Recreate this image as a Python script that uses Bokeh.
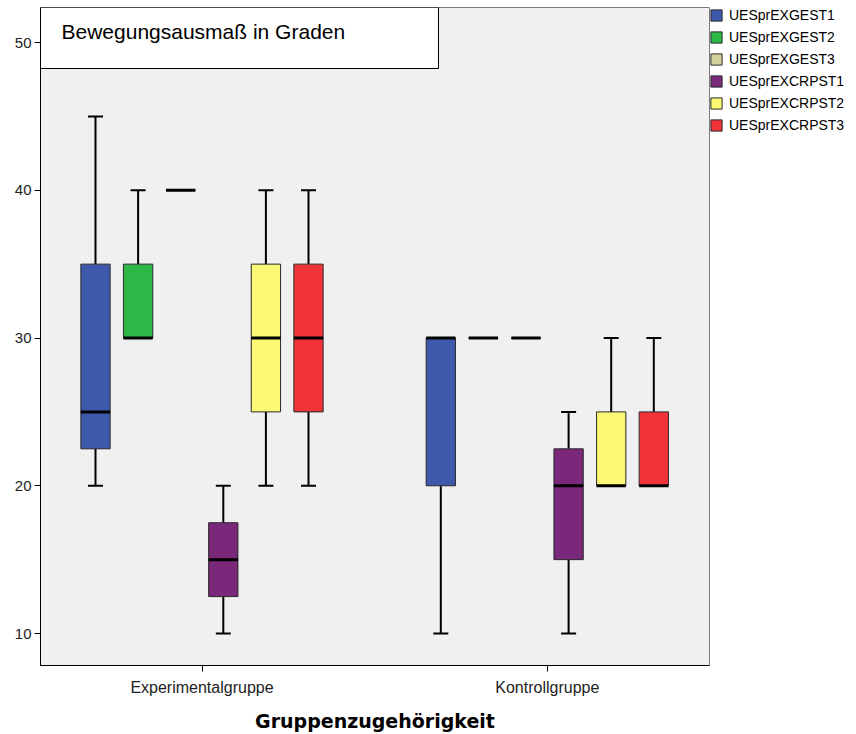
from bokeh.plotting import figure
from bokeh.models import FixedTicker, Legend, LegendItem, Range1d
from bokeh.core.properties import value
from bokeh.embed import file_html
from bokeh.resources import INLINE

# ---------------- data ----------------
groups = ["Experimentalgruppe", "Kontrollgruppe"]
series = ["UESprEXGEST1", "UESprEXGEST2", "UESprEXGEST3",
          "UESprEXCRPST1", "UESprEXCRPST2", "UESprEXCRPST3"]
colors = ["#3E58AC", "#2EB848", "#D4D09A", "#7A287A", "#FBF873", "#EF3338"]

exp_min = [20, 30, 40, 10, 20, 20]
exp_q1 = [22.5, 30, 40, 12.5, 25, 25]
exp_med = [25, 30, 40, 15, 30, 30]
exp_q3 = [35, 35, 40, 17.5, 35, 35]
exp_max = [45, 40, 40, 20, 40, 40]

kon_min = [10, 30, 30, 10, 20, 20]
kon_q1 = [20, 30, 30, 15, 20, 20]
kon_med = [30, 30, 30, 20, 20, 20]
kon_q3 = [30, 30, 30, 22.5, 25, 25]
kon_max = [30, 30, 30, 25, 30, 30]

y_ticks = [10, 20, 30, 40, 50]
title_text = "Bewegungsausmaß in Graden"
x_label = "Gruppenzugehörigkeit"

# ---------------- layout constants ----------------
PX_PER_X = 345.3          # pixels per group unit
PX_PER_Y = 14.775         # pixels per degree
FRAME_W, FRAME_H = 669, 658
x0 = 1 - 161.5 / PX_PER_X
x1 = x0 + FRAME_W / PX_PER_X
y1 = 50 + 35 / PX_PER_Y
y0 = y1 - FRAME_H / PX_PER_Y

step = 42.6 / PX_PER_X
box_w = 29.3 / PX_PER_X
cap_w = 15.0 / PX_PER_X

p = figure(frame_width=FRAME_W, frame_height=FRAME_H,
           output_backend="svg", toolbar_location=None,
           x_range=Range1d(x0, x1), y_range=Range1d(y0, y1),
           min_border_left=40, min_border_right=130, min_border_top=7,
           min_border_bottom=60)
p.background_fill_color = "#F0F0F0"
p.border_fill_color = "white"
p.outline_line_color = "#7a7a7a"
p.outline_line_width = 1
p.xgrid.visible = False
p.ygrid.visible = False


def px_x(px):
    return 1 + (px - 201.5) / PX_PER_X


def px_y(py):
    return 50 - (py - 42) / PX_PER_Y


# title box in the top-left corner of the frame
p.quad(left=x0, right=px_x(438), top=y1, bottom=px_y(68),
       fill_color="white", line_color="black", line_width=1)
p.text(x=[px_x(61)], y=[px_y(31)], text=[title_text],
       text_font=value("Liberation Sans"), text_font_size="21px",
       text_baseline="middle", text_align="left", text_color="black")

stats = [(exp_min, exp_q1, exp_med, exp_q3, exp_max),
         (kon_min, kon_q1, kon_med, kon_q3, kon_max)]

legend_items = []
for i, (name, col) in enumerate(zip(series, colors)):
    xs, q1s, q3s, meds = [], [], [], []
    wx, wy0, wy1 = [], [], []
    cx, cy = [], []
    for g, (mn, q1, md, q3, mx) in enumerate(stats):
        xc = (g + 1) + (i - 2.5) * step
        xs.append(xc)
        q1s.append(q1[i]); q3s.append(q3[i]); meds.append(md[i])
        if mx[i] > q3[i]:
            wx.append(xc); wy0.append(q3[i]); wy1.append(mx[i])
            cx.append(xc); cy.append(mx[i])
        if mn[i] < q1[i]:
            wx.append(xc); wy0.append(mn[i]); wy1.append(q1[i])
            cx.append(xc); cy.append(mn[i])
    if wx:
        p.segment(x0=wx, y0=wy0, x1=wx, y1=wy1, line_color="black", line_width=2)
        p.segment(x0=[c - cap_w / 2 for c in cx], y0=cy,
                  x1=[c + cap_w / 2 for c in cx], y1=cy,
                  line_color="black", line_width=2)
    r = p.quad(left=[c - box_w / 2 for c in xs], right=[c + box_w / 2 for c in xs],
               bottom=q1s, top=q3s, fill_color=col, line_color="#2a2a2a", line_width=1)
    p.segment(x0=[c - box_w / 2 for c in xs], y0=meds,
              x1=[c + box_w / 2 for c in xs], y1=meds,
              line_color="black", line_width=3)
    legend_items.append(LegendItem(label=name, renderers=[r]))

legend = Legend(items=legend_items, location="top_left")
legend.margin = 0
legend.padding = 4
legend.spacing = 6
legend.glyph_width = 14
legend.glyph_height = 14
legend.label_height = 14
legend.label_standoff = 6
legend.label_text_font = "Liberation Sans"
legend.label_text_font_size = "14px"
legend.label_text_color = "black"
legend.border_line_color = None
legend.background_fill_alpha = 0
p.add_layout(legend, "right")

# axes
p.yaxis.ticker = FixedTicker(ticks=y_ticks)
p.yaxis.minor_tick_line_color = None
p.yaxis.major_tick_out = 6
p.yaxis.major_tick_in = 0
p.yaxis.major_label_standoff = 3
p.yaxis.major_label_text_font = "Liberation Sans"
p.yaxis.major_label_text_font_size = "15px"
p.yaxis.major_label_text_color = "#222222"
p.yaxis.axis_line_color = "black"
p.yaxis.major_tick_line_color = "black"

p.xaxis.ticker = FixedTicker(ticks=[1, 2])
p.xaxis.major_label_overrides = {1: groups[0], 2: groups[1]}
p.xaxis.minor_tick_line_color = None
p.xaxis.major_tick_out = 6
p.xaxis.major_tick_in = 0
p.xaxis.major_label_standoff = 7
p.xaxis.major_label_text_font = "Liberation Sans"
p.xaxis.major_label_text_font_size = "16px"
p.xaxis.major_label_text_color = "#222222"
p.xaxis.axis_line_color = "black"
p.xaxis.major_tick_line_color = "black"
p.xaxis.axis_label = x_label
p.xaxis.axis_label_text_font = "DejaVu Sans"
p.xaxis.axis_label_text_font_style = "bold"
p.xaxis.axis_label_text_font_size = "19px"
p.xaxis.axis_label_text_color = "black"
p.xaxis.axis_label_standoff = 11

open("out.html", "w").write(file_html(p, INLINE))
